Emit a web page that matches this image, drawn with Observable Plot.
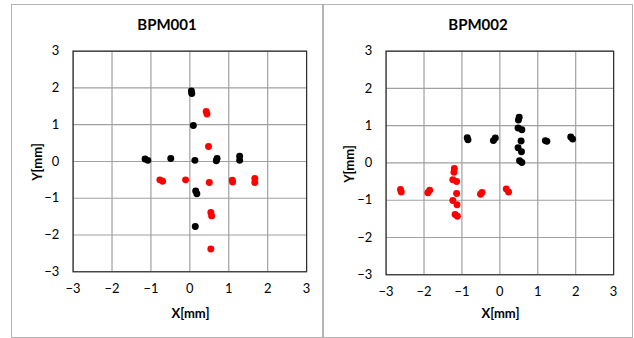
<!DOCTYPE html>
<html><head><meta charset="utf-8">
<script src="https://cdn.jsdelivr.net/npm/d3@7"></script>
<script src="https://cdn.jsdelivr.net/npm/@observablehq/plot@0.6"></script>
<style>
html,body{margin:0;padding:0;background:#fff;width:634px;height:338px;overflow:hidden;font-family:Lato,"Open Sans",sans-serif;}
.panel{position:absolute;box-sizing:border-box;border:1px solid #b4b4b4;}
.panel svg{position:absolute;left:-1px;top:-1px;}
.title{position:absolute;font-weight:bold;font-size:15px;color:#000;text-align:center;}
.xl{position:absolute;font-weight:bold;font-size:13px;color:#000;text-align:center;}
.yl{position:absolute;font-weight:bold;font-size:13px;color:#000;transform:rotate(-90deg);transform-origin:center;text-align:center;}
</style></head>
<body>
<script>
const ticks = [-3, -2, -1, 0, 1, 2, 3];
const titles = ["BPM001", "BPM002"];
const xLabel = "X[mm]";
const yLabel = "Y[mm]";

// BPM001
const bpm1BlackX = [0.04, 0.05, 0.09, -1.15, -1.08, -0.49, 0.13, 0.70, 0.68, 1.28, 1.28, 0.15, 0.18, 0.14];
const bpm1BlackY = [1.92, 1.85, 0.98, 0.07, 0.03, 0.08, 0.03, 0.08, 0.02, 0.14, 0.03, -0.80, -0.88, -1.77];
const bpm1RedX = [0.42, 0.44, 0.48, -0.77, -0.70, -0.11, 0.50, 1.09, 1.10, 1.67, 1.67, 0.54, 0.56, 0.54];
const bpm1RedY = [1.36, 1.29, 0.41, -0.50, -0.54, -0.50, -0.57, -0.51, -0.56, -0.46, -0.57, -1.39, -1.48, -2.38];

// BPM002
const bpm2BlackX = [0.51, 0.49, 0.48, 0.58, -0.86, -0.84, -0.12, -0.17, 0.56, 1.20, 1.24, 0.48, 0.57, 0.52, 0.58, 1.87, 1.92];
const bpm2BlackY = [1.23, 1.15, 0.94, 0.89, 0.68, 0.62, 0.67, 0.60, 0.59, 0.60, 0.58, 0.41, 0.30, 0.06, 0.01, 0.70, 0.64];
const bpm2RedX = [-1.20, -1.21, -1.24, -1.14, -2.62, -2.60, -1.85, -1.90, -1.14, -0.47, -0.51, 0.17, 0.23, -1.24, -1.13, -1.18, -1.12];
const bpm2RedY = [-0.15, -0.25, -0.45, -0.50, -0.71, -0.78, -0.73, -0.80, -0.82, -0.79, -0.84, -0.70, -0.78, -1.01, -1.12, -1.38, -1.43];

const zip = (xs, ys) => xs.map((x, i) => ({x, y: ys[i]}));

const panels = [
  {left: 11, top: 4, width: 312, height: 334, ml: 62, mr: 15, mt: 47, mb: 65,
   black: zip(bpm1BlackX, bpm1BlackY), red: zip(bpm1RedX, bpm1RedY)},
  {left: 323, top: 4, width: 310, height: 334, ml: 63, mr: 18, mt: 47, mb: 62,
   black: zip(bpm2BlackX, bpm2BlackY), red: zip(bpm2RedX, bpm2RedY)}
];

panels.forEach((p, i) => {
  const div = document.createElement("div");
  div.className = "panel";
  Object.assign(div.style, {left: p.left + "px", top: p.top + "px", width: p.width + "px", height: p.height + "px"});
  document.body.appendChild(div);

  const chart = Plot.plot({
    width: p.width, height: p.height,
    marginLeft: p.ml, marginRight: p.mr, marginTop: p.mt, marginBottom: p.mb,
    style: {fontFamily: "Lato, 'Open Sans', sans-serif", fontSize: "13px", color: "#000", background: "transparent"},
    x: {domain: [-3, 3]},
    y: {domain: [-3, 3]},
    marks: [
      Plot.gridX(ticks, {stroke: "#a0a0a0", strokeOpacity: 1, strokeWidth: 1.2}),
      Plot.gridY(ticks, {stroke: "#a0a0a0", strokeOpacity: 1, strokeWidth: 1.2}),
      Plot.frame({stroke: "#303030", strokeWidth: 1.2}),
      Plot.axisX(ticks, {tickSize: 0, tickPadding: 12, label: null, fontSize: 13}),
      Plot.axisY(ticks, {tickSize: 0, tickPadding: 14, label: null, fontSize: 13}),
      Plot.dot(p.black, {x: "x", y: "y", r: 3.5, fill: "black"}),
      Plot.dot(p.red, {x: "x", y: "y", r: 3.5, fill: "#ff0000"})
    ]
  });
  div.appendChild(chart);

  const frameCx = p.left + p.ml + (p.width - p.ml - p.mr) / 2;
  const frameCy = p.top + p.mt + (p.height - p.mt - p.mb) / 2;

  const t = document.createElement("div");
  t.className = "title";
  t.textContent = titles[i];
  Object.assign(t.style, {left: (p.left + p.width / 2 - 60) + "px", width: "120px", top: "15px"});
  document.body.appendChild(t);

  const xl = document.createElement("div");
  xl.className = "xl";
  xl.textContent = xLabel;
  Object.assign(xl.style, {left: (frameCx - 50) + "px", width: "100px", top: (p.top + p.height - 33) + "px"});
  document.body.appendChild(xl);

  const yl = document.createElement("div");
  yl.className = "yl";
  yl.textContent = yLabel;
  Object.assign(yl.style, {left: (p.left + 26 - 50) + "px", width: "100px", top: (frameCy - 9) + "px", height: "18px", lineHeight: "18px"});
  document.body.appendChild(yl);
});
</script>
</body></html>
